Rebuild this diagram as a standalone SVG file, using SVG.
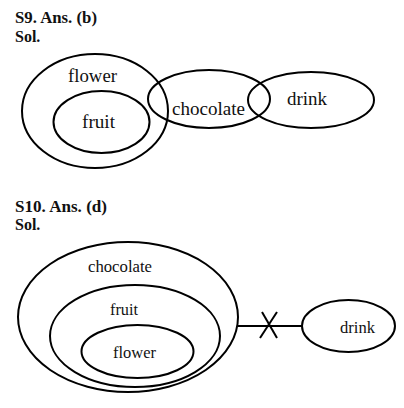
<svg xmlns="http://www.w3.org/2000/svg" width="404" height="408" viewBox="0 0 404 408">
<style>
.e{fill:none;stroke:#000;stroke-width:2}
.h{font-family:"Liberation Serif",serif;font-weight:bold;font-size:16px;fill:#111}
.t{font-family:"Liberation Serif",serif;font-size:19px;fill:#111}
.s{font-family:"Liberation Serif",serif;font-size:17px;fill:#111}
.c{stroke:#000;stroke-width:2;fill:none}
</style>
<rect width="404" height="408" fill="#fff"/>
<text class="h" x="15" y="23" textLength="82" lengthAdjust="spacingAndGlyphs">S9. Ans. (b)</text>
<text class="h" x="15" y="42">Sol.</text>
<g id="s9-flower"><ellipse class="e" cx="95" cy="111" rx="73" ry="57"/><text class="t" x="68" y="82" textLength="49" lengthAdjust="spacingAndGlyphs">flower</text></g>
<g id="s9-fruit"><ellipse class="e" cx="101.5" cy="122" rx="48" ry="31"/><text class="t" x="82" y="128" textLength="33" lengthAdjust="spacingAndGlyphs">fruit</text></g>
<g id="s9-chocolate"><ellipse class="e" cx="209" cy="99" rx="61" ry="29"/><text class="t" x="172" y="115" textLength="73" lengthAdjust="spacingAndGlyphs">chocolate</text></g>
<g id="s9-drink"><ellipse class="e" cx="311" cy="100" rx="63" ry="28"/><text class="t" x="287" y="105" textLength="40" lengthAdjust="spacingAndGlyphs">drink</text></g>
<text class="h" x="15" y="212" textLength="92" lengthAdjust="spacingAndGlyphs">S10. Ans. (d)</text>
<text class="h" x="15" y="230">Sol.</text>
<g id="s10-chocolate"><ellipse class="e" cx="128" cy="317" rx="110" ry="75"/><text class="s" x="88" y="272" textLength="64" lengthAdjust="spacingAndGlyphs">chocolate</text></g>
<g id="s10-fruit"><ellipse class="e" cx="135" cy="336" rx="85" ry="51"/><text class="s" x="110" y="315" textLength="28" lengthAdjust="spacingAndGlyphs">fruit</text></g>
<g id="s10-flower"><ellipse class="e" cx="137.5" cy="351.5" rx="56" ry="26.5"/><text class="s" x="113" y="358" textLength="43" lengthAdjust="spacingAndGlyphs">flower</text></g>
<g id="s10-drink"><ellipse class="e" cx="348.5" cy="326" rx="46.5" ry="26"/><text class="s" x="340" y="333" textLength="35" lengthAdjust="spacingAndGlyphs">drink</text></g>
<g id="connectors">
<line class="c" x1="238" y1="326" x2="302" y2="326"/>
<line class="c" x1="262" y1="312" x2="277" y2="338"/>
<line class="c" x1="277" y1="312" x2="260" y2="338"/>
</g>
</svg>
